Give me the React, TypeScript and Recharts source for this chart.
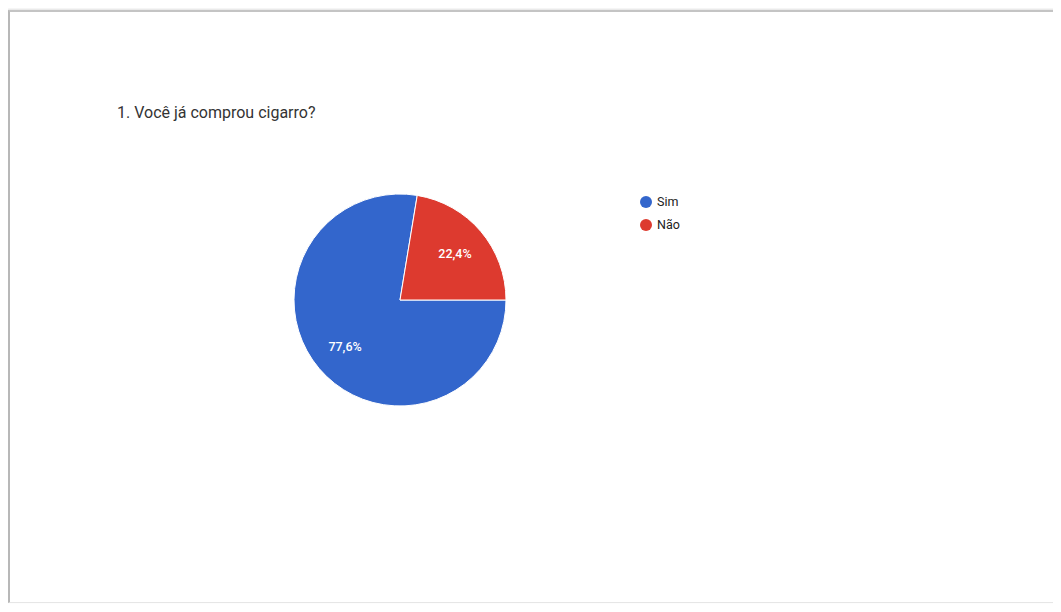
import React from "react";
import { PieChart, Pie, Cell, Legend } from "recharts";

const categories = ["Sim", "Não"];
const values = [77.6, 22.4];
const labels = ["77,6%", "22,4%"];
const colors = ["#3366CC", "#DD3A2F"];
const title = "1. Você já comprou cigarro?";

const data = categories.map((name, i) => ({ name, value: values[i], label: labels[i] }));
const total = values.reduce((a, b) => a + b, 0);
// Sim ends at 3 o'clock, Não spans from 3 o'clock up toward 12 o'clock
const startAngle = (values[1] / total) * 360;

const RAD = Math.PI / 180;

const renderLabel = (props: any) => {
  const { cx, cy, midAngle, outerRadius, index } = props;
  const r = outerRadius * 0.68;
  const x = cx + r * Math.cos(-midAngle * RAD);
  const y = cy + r * Math.sin(-midAngle * RAD);
  return (
    <text
      x={x}
      y={y}
      fill="#ffffff"
      textAnchor="middle"
      dominantBaseline="central"
      fontFamily="Roboto, Arial, sans-serif"
      fontSize={12.5}
      fontWeight={500}
    >
      {data[index].label}
    </text>
  );
};

const renderLegend = () => (
  <div style={{ fontFamily: "Roboto, Arial, sans-serif", fontSize: 12.5, color: "#222" }}>
    {data.map((d, i) => (
      <div key={d.name} style={{ display: "flex", alignItems: "center", height: 23 }}>
        <span
          style={{
            display: "inline-block",
            width: 12,
            height: 12,
            borderRadius: 6,
            background: colors[i],
            marginRight: 5,
          }}
        />
        <span>{d.name}</span>
      </div>
    ))}
  </div>
);

export default function App() {
  return (
    <div
      style={{
        position: "relative",
        width: 1053,
        height: 596,
        overflow: "hidden",
        background: "#fff",
      }}
    >
      <div
        style={{
          position: "absolute",
          left: 0,
          top: 2,
          width: 1060,
          height: 593,
          borderLeft: "2px solid #b8b8b8",
          borderTop: "2px solid #c4c4c4",
          borderBottom: "1px solid #e6e6e6",
          boxShadow: "-1px -1px 2px rgba(0,0,0,0.12)",
          boxSizing: "border-box",
        }}
      />
      <div
        style={{
          position: "absolute",
          left: 109,
          top: 95,
          fontFamily: "Roboto, Arial, sans-serif",
          fontSize: 16,
          color: "#333",
          whiteSpace: "nowrap",
        }}
      >
        {title}
      </div>
      <div style={{ position: "absolute", left: 0, top: 0 }}>
        <PieChart width={1053} height={590}>
          <Pie
            data={data}
            dataKey="value"
            nameKey="name"
            cx={387}
            cy={287}
            outerRadius={106}
            startAngle={startAngle}
            endAngle={startAngle + 360}
            stroke="#ffffff"
            strokeWidth={1}
            label={renderLabel}
            labelLine={false}
            isAnimationActive={false}
          >
            {data.map((d, i) => (
              <Cell key={d.name} fill={colors[i]} />
            ))}
          </Pie>
          <Legend
            content={renderLegend}
            layout="vertical"
            wrapperStyle={{ position: "absolute", left: 632, top: 182, width: 100 }}
          />
        </PieChart>
      </div>
    </div>
  );
}
